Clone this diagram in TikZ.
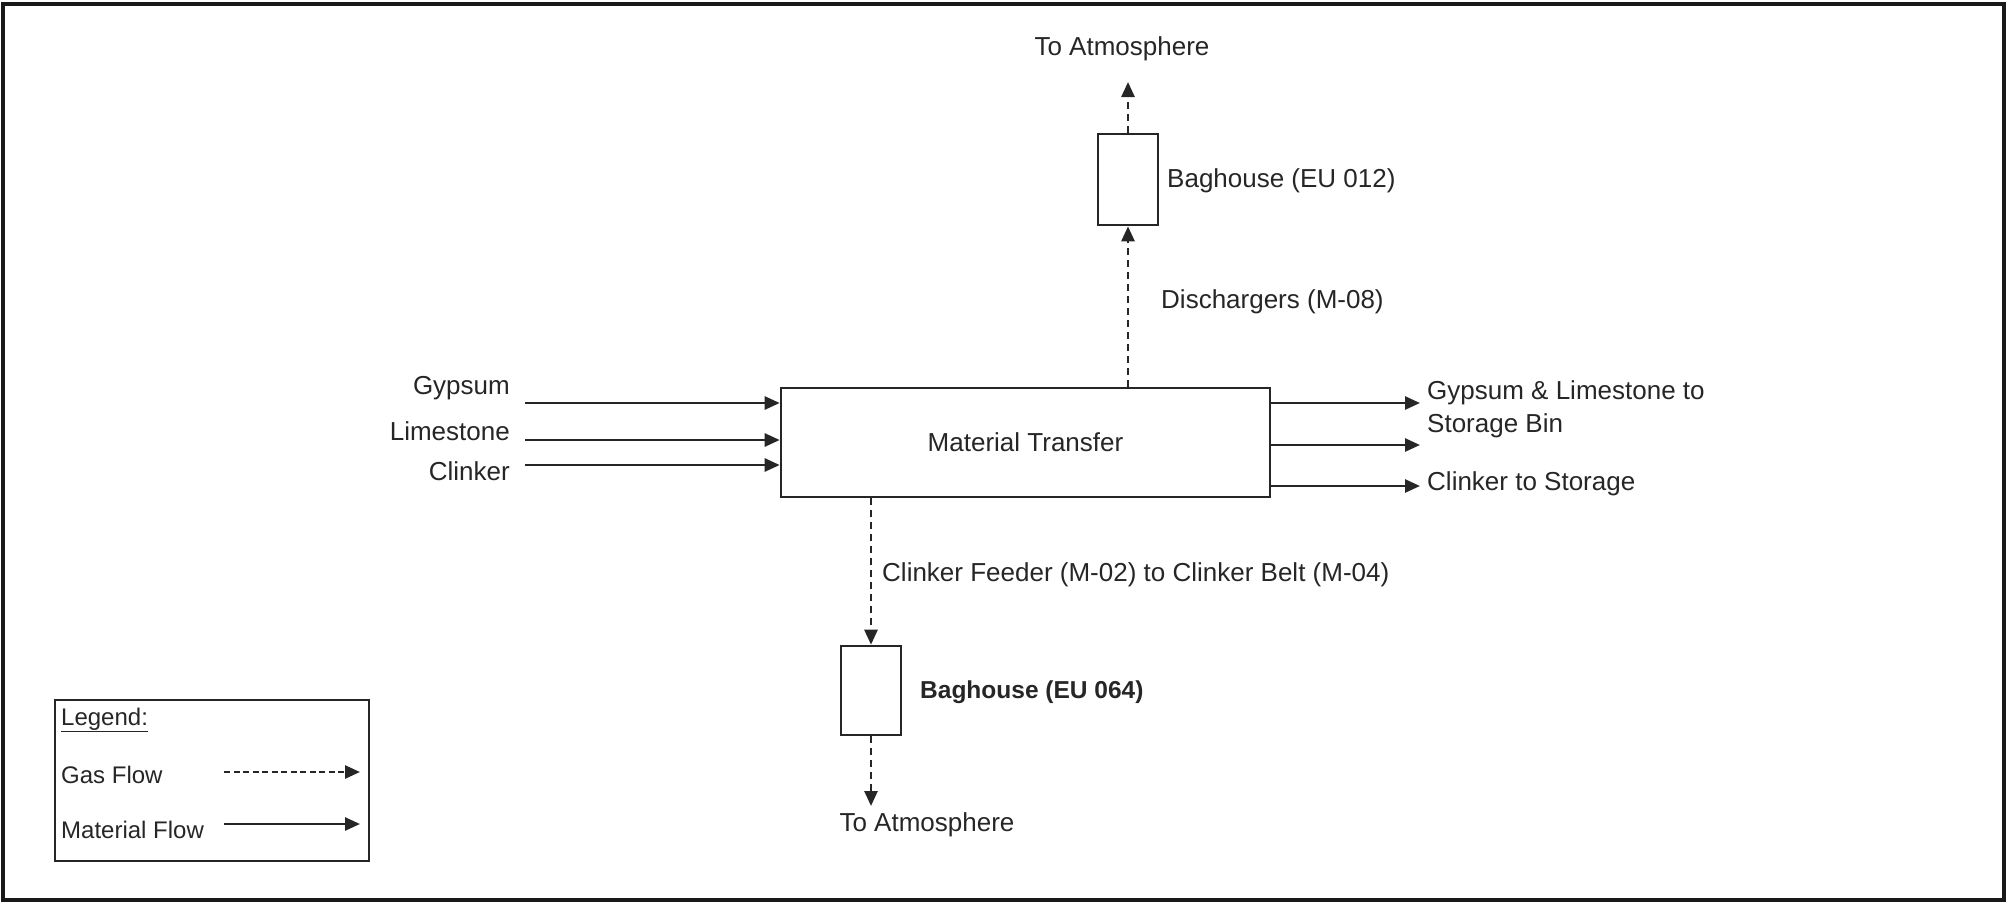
\documentclass[tikz,border=0pt]{standalone}
\usepackage{fontspec}
\setmainfont{Liberation Sans}
\usetikzlibrary{arrows.meta}
\begin{document}
\begin{tikzpicture}[x=1pt,y=-1pt,
  every node/.style={font=\fontsize{26}{31}\selectfont, text=black!85, inner sep=0pt},
  box/.style={draw=black!85, line width=2.6pt, fill=white},
  mat/.style={draw=black!85, line width=2.6pt, -{Triangle[length=15pt,width=13pt]}},
  gas/.style={draw=black!85, line width=2.6pt, dash pattern=on 7pt off 5pt, -{Triangle[length=15pt,width=13pt]}},
  lbl/.style={anchor=west},
  legfont/.style={font=\fontsize{24}{29}\selectfont}
]
\useasboundingbox (0,0) rectangle (2007,903);
\draw[line width=4pt, draw=black!90] (3,4) rectangle (2004,900);

% main box
\node[box, minimum width=489pt, minimum height=109pt] (mt) at (1025.5,442.5) {Material Transfer};

% inputs
\node[anchor=east] (gyp) at (510,388) {Gypsum};
\node[anchor=east] (lim) at (510,431) {Limestone};
\node[anchor=east] (cli) at (510,471) {Clinker};
\coordinate (gin) at (525,403);
\coordinate (lin) at (525,440);
\coordinate (cin) at (525,465);
\draw[mat] (gin) -- (gin -| mt.west);
\draw[mat] (lin) -- (lin -| mt.west);
\draw[mat] (cin) -- (cin -| mt.west);

% outputs
\coordinate (gout) at (1420,403);
\coordinate (lout) at (1420,445);
\coordinate (cout) at (1420,486);
\draw[mat] (gout -| mt.east) -- (gout);
\draw[mat] (lout -| mt.east) -- (lout);
\draw[mat] (cout -| mt.east) -- (cout);
\node[lbl] (glt) at (1427,393) {Gypsum \& Limestone to};
\node[lbl] (sb) at (1427,426) {Storage Bin};
\node[lbl] (cts) at (1427,484) {Clinker to Storage};

% upper baghouse
\node[box, minimum width=60pt, minimum height=91pt] (bh1) at (1128,179.5) {};
\node[lbl] (bh1l) at (1167,181) {Baghouse (EU 012)};
\node[lbl] (dis) at (1161,302) {Dischargers (M-08)};
\draw[gas] (bh1.south |- mt.north) -- (bh1.south);
\coordinate (atm1) at (1128,82);
\draw[gas] (bh1.north) -- (atm1);
\node (atm1l) at (1122,49) {To Atmosphere};

% lower baghouse
\node[lbl, font=\fontsize{24.5}{29}\selectfont\bfseries] (bh2l) at (920,692) {Baghouse (EU 064)};
\node[box, minimum width=60pt, minimum height=89pt] (bh2) at (871,690.5) {};
\node[lbl] (cf) at (882,575) {Clinker Feeder (M-02) to Clinker Belt (M-04)};
\draw[gas] (bh2.north |- mt.south) -- (bh2.north);
\coordinate (atm2) at (871,806);
\draw[gas] (bh2.south) -- (atm2);
\node (atm2l) at (927,825) {To Atmosphere};

% legend
\node[draw=black!85, line width=2.6pt, minimum width=314pt, minimum height=161pt] (leg) at (212,780.5) {};
\node[lbl, legfont] (legt) at (61,720) {\underline{Legend:}};
\node[lbl, legfont] (gasl) at (61,775) {Gas Flow};
\node[lbl, legfont] (matl) at (61,830) {Material Flow};
\coordinate (g1) at (224,772);
\coordinate (g2) at (360,772);
\coordinate (m1) at (224,824);
\coordinate (m2) at (360,824);
\draw[gas, dash pattern=on 6pt off 3.5pt] (g1) -- (g2);
\draw[mat] (m1) -- (m2);
\end{tikzpicture}
\end{document}
